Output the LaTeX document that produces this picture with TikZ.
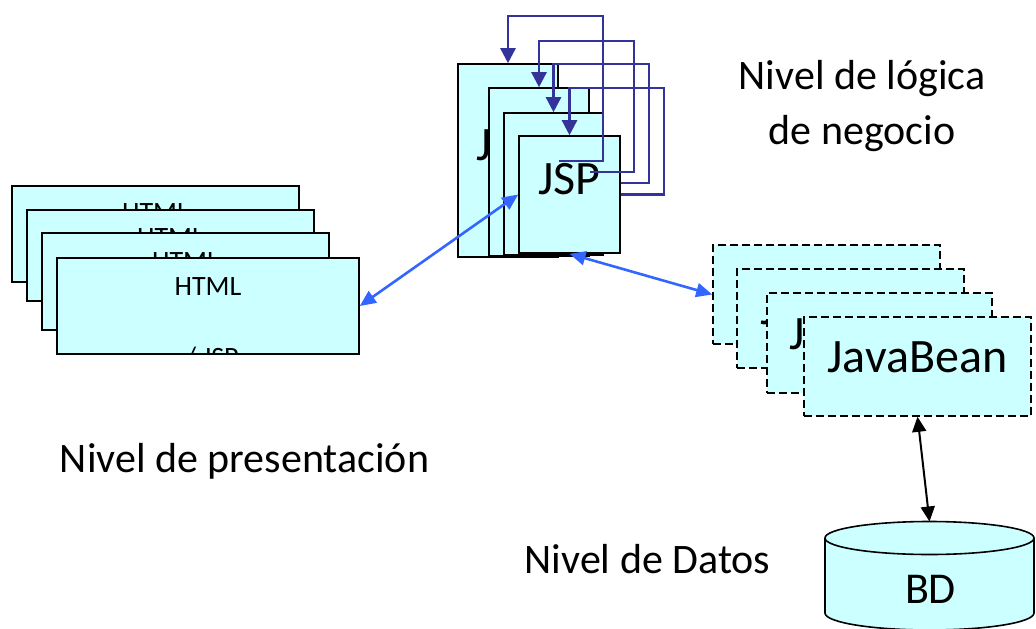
\documentclass[tikz,border=0pt]{standalone}
\usepackage{fontspec}
\setmainfont{Carlito}
\usetikzlibrary{arrows.meta}
\definecolor{boxcyan}{HTML}{CCFFFF}
\definecolor{linkblue}{HTML}{3366FF}
\definecolor{callblue}{HTML}{333399}

\begin{document}
\begin{tikzpicture}[x=1pt,y=-1pt,
        pagebox/.style={draw,fill=boxcyan,line width=1.6pt,inner sep=0pt},
        beanbox/.style={pagebox,dash pattern=on 8pt off 4pt},
        smalltext/.style={font=\fontsize{28}{30}\selectfont,anchor=base,inner sep=0pt},
        bigtext/.style={font=\fontsize{48}{50}\selectfont,anchor=base,inner sep=0pt},
        leveltext/.style={font=\fontsize{42}{50}\selectfont,anchor=base,inner sep=0pt},
        linkarrow/.style={linkblue,line width=2.6pt,{Triangle[length=16pt,width=14pt]}-{Triangle[length=16pt,width=14pt]}},
        callarrow/.style={callblue,line width=2.6pt,-{Triangle[length=15pt,width=15pt]}},
        dbarrow/.style={black,line width=2pt,{Triangle[length=15pt,width=14pt]}-{Triangle[length=15pt,width=14pt]}}]
        \useasboundingbox (0,0) rectangle (1036,629);
        % presentacion
        \node[pagebox,minimum width=287pt,minimum height=96pt] (html1) at (155.5,234) {};
        \node[smalltext] (htmlt1) at (155.5,221) {HTML};
        \node[pagebox,minimum width=287pt,minimum height=91pt] (html2) at (170.5,255.5) {};
        \node[smalltext] (htmlt2) at (170.5,246) {HTML};
        \node[pagebox,minimum width=287pt,minimum height=97pt] (html3) at (185.5,281.5) {};
        \node[smalltext] (htmlt3) at (185.5,270) {HTML};
        \node[pagebox,minimum width=302pt,minimum height=96pt] (html4) at (208,306) {};
        \node[smalltext] (htmlt4) at (208,295) {HTML};
        \begin{scope}
            \clip (html4.south west) rectangle (html4.north east);
            \node[smalltext] (jspt0) at (212,366) {/ JSP};
        \end{scope}
        % logica de negocio
        \node[pagebox,minimum width=100pt,minimum height=193pt] (jsp1) at (508,160.5) {};
        \node[bigtext] (jspt1) at (508,160.5) {JSP};
        \node[pagebox,minimum width=100pt,minimum height=168pt] (jsp2) at (539,172) {};
        \node[pagebox,minimum width=99pt,minimum height=142pt] (jsp3) at (553.5,184) {};
        \node[pagebox,minimum width=101pt,minimum height=117pt] (jsp4) at (569.5,194.5) {};
        \node[bigtext] (jspt4) at (569.5,194.5) {JSP};
        \draw[callarrow] (jsp1.east |- 0,161) -| (603,16) -| (jsp1.north);
        \draw[callarrow] (jsp2.east |- 0,172) -| (634,41) -| (jsp2.north);
        \draw[callarrow] (jsp4.east |- 0,183) -| (649,64) -| (jsp3.north);
        \draw[callarrow] (jsp4.east) -| (664,88) -| (jsp4.north);
        % beans (solo asoma la J de las de atras)
        \node[beanbox,minimum width=227pt,minimum height=99pt] (jb1) at (826.5,294.5) {};
        \node[bigtext,anchor=base west] (jbt1) at (736,300.5) {J};
        \node[beanbox,minimum width=227pt,minimum height=99pt] (jb2) at (850.5,318.5) {};
        \node[bigtext,anchor=base west] (jbt2) at (760,324.5) {J};
        \node[beanbox,minimum width=225pt,minimum height=100pt] (jb3) at (879.5,343) {};
        \node[bigtext,anchor=base west] (jbt3) at (789,349) {J};
        \node[beanbox,minimum width=227pt,minimum height=99pt] (jb4) at (917.5,366.5) {};
        \node[bigtext] (jbt4) at (917.5,372.5) {JavaBean};
        % datos
        \filldraw[fill=boxcyan,line width=1.6pt] (825,538) -- (825,613)
            arc[start angle=180,end angle=360,x radius=104.5pt,y radius=17pt] -- (1034,538)
            arc[start angle=0,end angle=180,x radius=104.5pt,y radius=16.5pt] -- cycle;
        \draw[line width=1.6pt] (825,538) arc[start angle=180,end angle=360,x radius=104.5pt,y radius=16.5pt];
        \coordinate (bd) at (929.5,521.5);
        \node[bigtext,font=\fontsize{44}{46}\selectfont] (bdt) at (930.5,603) {BD};
        % conexiones
        \draw[linkarrow] (html4.east) -- (jsp4.west);
        \draw[linkarrow] (jsp4.south) -- (jb1.west);
        \draw[dbarrow] (jb4.south) -- (bd);
        % niveles
        \node[leveltext] (lvlneg1) at (862,89) {Nivel de lógica};
        \node[leveltext] (lvlneg2) at (862,144) {de negocio};
        \node[leveltext] (lvlpres) at (244.5,472) {Nivel de presentación};
        \node[leveltext] (lvldat) at (647.5,573) {Nivel de Datos};
\end{tikzpicture}
\end{document}
